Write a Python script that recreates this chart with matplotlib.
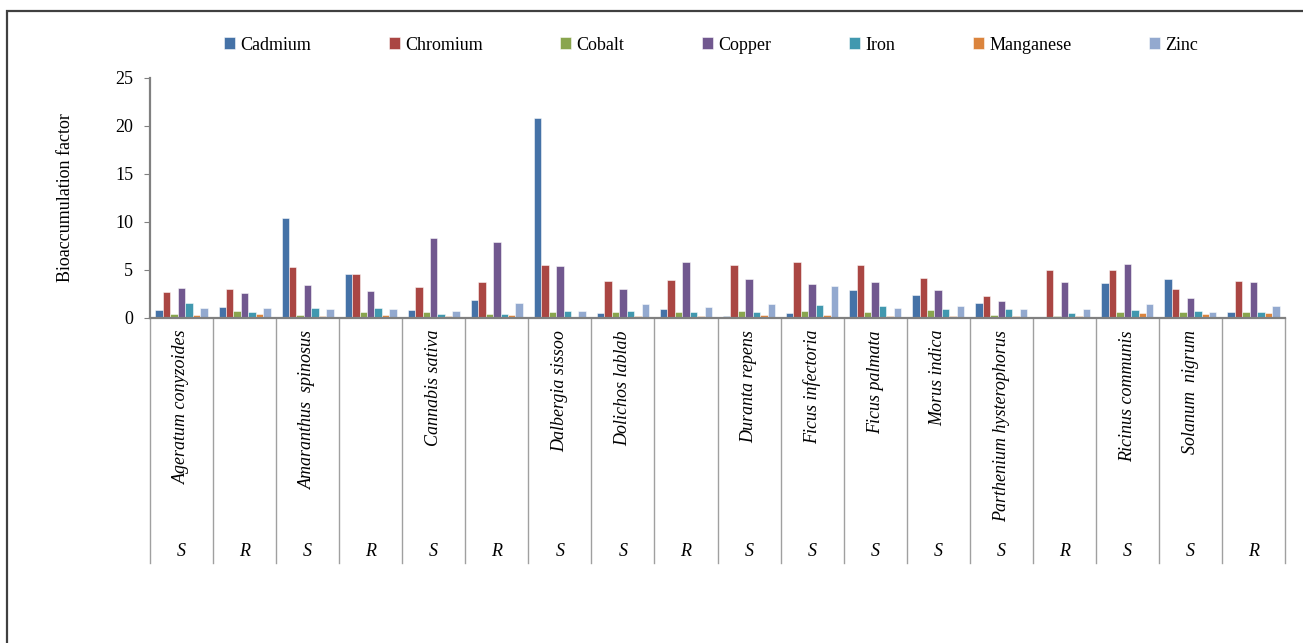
import numpy as np
import matplotlib
matplotlib.use('Agg')
import matplotlib.pyplot as plt
from matplotlib.patches import Rectangle

plt.rcParams['font.family'] = ['Liberation Serif', 'DejaVu Serif']

# species (blank where the same species is repeated) and plant part
species = ['Ageratum conyzoides', '', 'Amaranthus  spinosus', '', 'Cannabis sativa', '',
           'Dalbergia sissoo', 'Dolichos lablab', '', 'Duranta repens', 'Ficus infectoria',
           'Ficus palmata', 'Morus indica', 'Parthenium hysterophorus', '', 'Ricinus communis',
           'Solanum  nigrum', '']
parts = ['S', 'R', 'S', 'R', 'S', 'R', 'S', 'S', 'R', 'S', 'S', 'S', 'S', 'S', 'R', 'S', 'S', 'R']

metals = ['Cadmium', 'Chromium', 'Cobalt', 'Copper', 'Iron', 'Manganese', 'Zinc']
colors = ['#4572A7', '#AA4643', '#89A54E', '#71588F', '#4198AF', '#DB843D', '#93A9CF']

cadmium = [0.8, 1.1, 10.4, 4.6, 0.8, 1.9, 20.8, 0.55, 0.9, 0.25, 0.55, 2.9, 2.4, 1.6, 0.15, 3.6, 4.1, 0.65]
chromium = [2.7, 3.05, 5.3, 4.6, 3.25, 3.8, 5.5, 3.85, 3.95, 5.5, 5.8, 5.5, 4.2, 2.3, 5.0, 4.95, 3.05, 3.85]
cobalt = [0.4, 0.75, 0.3, 0.65, 0.65, 0.45, 0.65, 0.65, 0.65, 0.75, 0.75, 0.65, 0.8, 0.35, 0.25, 0.65, 0.65, 0.65]
copper = [3.1, 2.65, 3.45, 2.8, 8.35, 7.9, 5.45, 3.0, 5.85, 4.1, 3.5, 3.8, 2.95, 1.75, 3.75, 5.6, 2.05, 3.75]
iron = [1.6, 0.65, 1.0, 1.0, 0.45, 0.45, 0.7, 0.7, 0.65, 0.65, 1.4, 1.3, 0.95, 0.95, 0.5, 0.85, 0.7, 0.65]
manganese = [0.3, 0.4, 0.25, 0.3, 0.2, 0.35, 0.1, 0.25, 0.25, 0.3, 0.3, 0.25, 0.2, 0.2, 0.2, 0.5, 0.4, 0.5]
zinc = [1.0, 1.05, 0.9, 0.9, 0.75, 1.6, 0.75, 1.5, 1.1, 1.5, 3.3, 1.05, 1.2, 0.9, 0.9, 1.5, 0.6, 1.25]
series = [cadmium, chromium, cobalt, copper, iron, manganese, zinc]

fig = plt.figure(figsize=(13.03, 6.43), dpi=100)
W, H = 1303.0, 643.0
ax = fig.add_axes([150 / W, 1 - 318 / H, (1285 - 150) / W, (318 - 78) / H])

n = len(species)
x = np.arange(n)
bw = 0.118
for i, (vals, c, name) in enumerate(zip(series, colors, metals)):
    ax.bar(x + (i - 3) * bw, vals, width=bw, color=c, edgecolor=(1, 1, 1, 0.6),
           linewidth=0.6, label=name)

ax.set_xlim(-0.5, n - 0.5)
ax.set_ylim(0, 25)
ax.set_yticks(range(0, 26, 5))
ax.tick_params(axis='y', labelsize=13, length=4, color='#808080', direction='out', pad=8)
ax.set_xticks([])
for s in ['top', 'right']:
    ax.spines[s].set_visible(False)
for s in ['left', 'bottom']:
    ax.spines[s].set_color('#808080')
    ax.spines[s].set_linewidth(1.6)
ax.set_ylabel('Bioaccumulation factor', fontsize=13, labelpad=30)

# category separators running down through the label area
sep_len = (563 - 318) / (318 - 78)
for b in np.arange(-0.5, n, 1.0):
    ax.plot([b, b], [0, -sep_len], transform=ax.get_xaxis_transform(),
            color='#a0a0a0', lw=1.0, clip_on=False)

# species names and plant part labels under each group
top_off = -(330 - 318) / (318 - 78)
part_off = -(552 - 318) / (318 - 78)
for xi, sp, pt in zip(x, species, parts):
    if sp:
        ax.text(xi, top_off, sp, transform=ax.get_xaxis_transform(), rotation=90,
                ha='center', va='top', fontsize=13, style='italic')
    ax.text(xi, part_off, pt, transform=ax.get_xaxis_transform(),
            ha='center', va='center', fontsize=13, style='italic')

fig.legend(loc='center', bbox_to_anchor=(711 / W, 1 - 45 / H), ncol=7, frameon=False,
           fontsize=13, handlelength=0.6, handleheight=0.6, handletextpad=0.3,
           columnspacing=4.3)

# outer frame around the chart area
fig.patches.append(Rectangle((7 / W, -0.05), 1.05, 1 - 11 / H + 0.05, transform=fig.transFigure,
                             fill=False, edgecolor='#404040', linewidth=1.6))

fig.savefig('out.png', dpi=100)
